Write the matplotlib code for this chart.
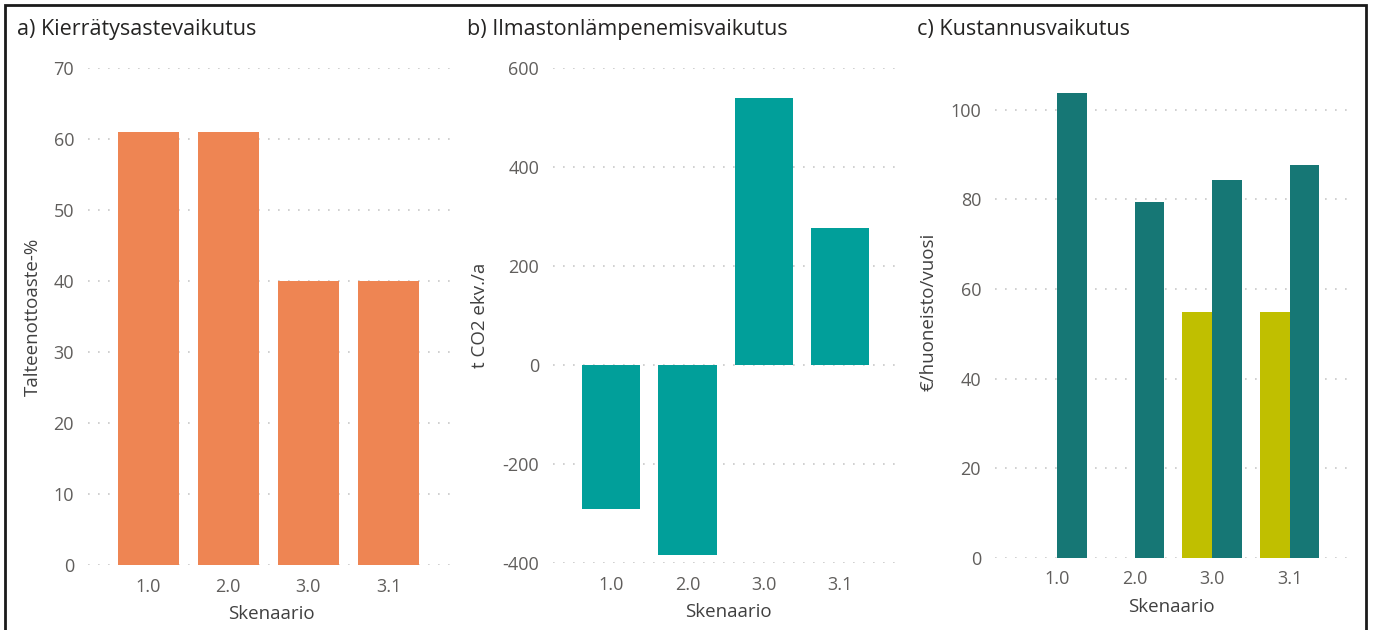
import matplotlib
matplotlib.use("Agg")
from matplotlib import pyplot as plt
from matplotlib.patches import Rectangle
import numpy as np

plt.rcParams['font.family'] = ['Open Sans', 'DejaVu Sans']
plt.rcParams['axes.unicode_minus'] = False

skenaariot = ["1.0", "2.0", "3.0", "3.1"]

# a) Kierrätysastevaikutus
talteenotto = [61, 61, 40, 40]
# b) Ilmastonlämpenemisvaikutus
ilmasto = [-291, -384, 539, 277]
# c) Kustannusvaikutus (kaksi sarjaa)
kustannus_kelt = [0, 0, 55, 55]
kustannus_tumma = [103.8, 79.4, 84.4, 87.6]

ORANSSI = "#EE8553"
TURKOOSI = "#019F9A"
TUMMA = "#167775"
KELTAINEN = "#C0BF00"
TICK_C = "#605E5C"
LABEL_C = "#404040"
TITLE_C = "#252423"

W, H = 1376, 630
fig = plt.figure(figsize=(W / 100, H / 100), dpi=100)

def px_axes(x0, x1, ytop, ybot):
  return fig.add_axes([x0 / W, 1 - ybot / H, (x1 - x0) / W, (ybot - ytop) / H])

def tyyli(ax, ylabel, yticks):
  for s in ax.spines.values():
    s.set_visible(False)
  ax.set_yticks(yticks)
  ax.yaxis.grid(True, linestyle=(0, (1, 5)), color="#C8C8C8", linewidth=1.2)
  ax.set_axisbelow(True)
  ax.tick_params(axis="both", length=0, labelsize=13, colors=TICK_C)
  ax.tick_params(axis="x", pad=9)
  ax.tick_params(axis="y", pad=10)
  ax.set_xlabel("Skenaario", fontsize=13.5, color=LABEL_C, labelpad=7)
  ax.set_ylabel(ylabel, fontsize=13.5, color=LABEL_C)
  x = np.arange(len(skenaariot))
  ax.set_xticks(x)
  ax.set_xticklabels(skenaariot)

x = np.arange(len(skenaariot))

# a
ax1 = px_axes(88, 455, 68, 565)
ax1.bar(x, talteenotto, width=0.76, color=ORANSSI)
ax1.set_xlim(-0.75, 3.83)
ax1.set_ylim(0, 70)
tyyli(ax1, "Talteenottoaste-%", np.arange(0, 71, 10))
ax1.yaxis.set_label_coords(-0.127, 0.5)

# b
ax2 = px_axes(553, 903, 68, 563)
ax2.bar(x, ilmasto, width=0.76, color=TURKOOSI)
ax2.set_xlim(-0.76, 3.82)
ax2.set_ylim(-400, 600)
tyyli(ax2, "t CO2 ekv./a", np.arange(-400, 601, 200))
ax2.yaxis.set_label_coords(-0.184, 0.5)

# c
ax3 = px_axes(995, 1347, 65, 558)
bw = 0.384
ax3.bar(x - bw / 2, kustannus_kelt, width=bw, color=KELTAINEN)
ax3.bar(x + bw / 2, kustannus_tumma, width=bw, color=TUMMA)
ax3.set_xlim(-0.8, 3.74)
ax3.set_ylim(0, 110)
tyyli(ax3, "€/huoneisto/vuosi", np.arange(0, 101, 20))
ax3.yaxis.set_label_coords(-0.164, 0.5)

for xp, txt in [(17, "a) Kierrätysastevaikutus"), (467, "b) Ilmastonlämpenemisvaikutus"), (917, "c) Kustannusvaikutus")]:
  fig.text(xp / W, 1 - 30 / H, txt, fontsize=15.5, color=TITLE_C, va="center", ha="left")

# kehys
fig.patches.append(Rectangle((5 / W, -0.02), (1366 - 5) / W, 1 - 5 / H + 0.02,
                             transform=fig.transFigure, fill=False, edgecolor="#1A1A1A", linewidth=2))

fig.savefig("out.png", dpi=100)
